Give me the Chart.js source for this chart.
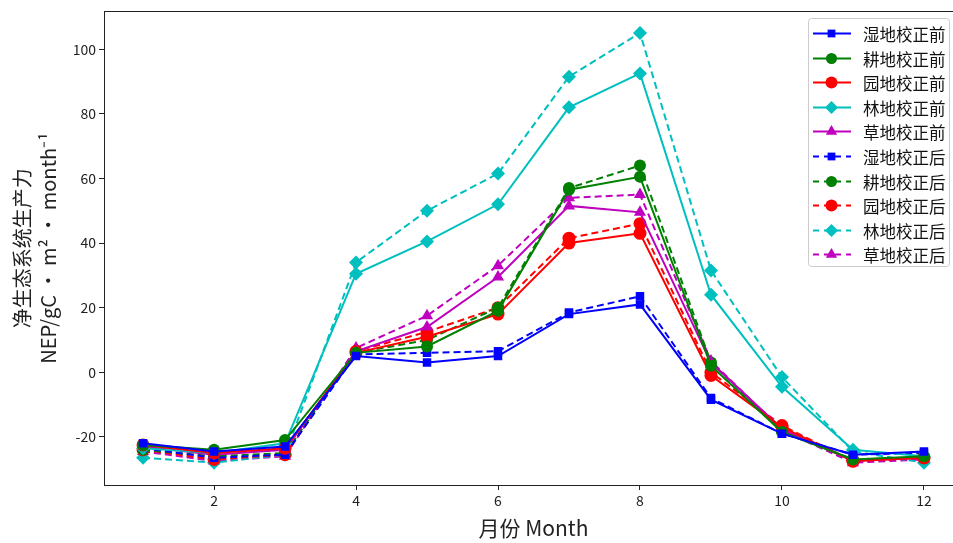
<!DOCTYPE html>
<html><head><meta charset="utf-8">
<script src="https://cdn.jsdelivr.net/npm/chart.js@4/dist/chart.umd.min.js"></script>
<style>html,body{margin:0;padding:0;background:#fff;overflow:hidden;width:953px;height:543px}#wrap{width:975px;height:543px}</style>
</head><body><div id="wrap"><canvas id="c" width="975" height="543"></canvas></div>
<script>
const months = [1,2,3,4,5,6,7,8,9,10,11,12];
const xTicks = [2,4,6,8,10,12];
const yTicks = [-20,0,20,40,60,80,100];
const seriesNames = ['湿地校正前','耕地校正前','园地校正前','林地校正前','草地校正前','湿地校正后','耕地校正后','园地校正后','林地校正后','草地校正后'];
const wetBefore    = [-22,-24.5,-23,5,3,5,18,21,-8.5,-19,-25.5,-24.5];
const cropBefore   = [-22.5,-24,-21,6,8,19,56.5,60.5,2,-18.5,-27,-26];
const orchBefore   = [-22.5,-25,-23.5,6,11,18,40,43,-1,-17,-27.5,-26.5];
const forestBefore = [-23.5,-25,-22,30.5,40.5,52,82,92.5,24,-4.5,-24,-26];
const grassBefore  = [-23,-25.5,-24,6.5,14,29.5,51.5,49.5,3,-17.5,-27.5,-26.5];
const wetAfter     = [-23.5,-26.5,-25.5,5.5,6,6.5,18.5,23.5,-8,-19,-25.5,-25];
const cropAfter    = [-24,-26,-25,6,10,20,57,64,3,-18,-27,-26.5];
const orchAfter    = [-24,-27,-25.5,6.5,12.5,20,41.5,46,0,-16.5,-27.5,-26.5];
const forestAfter  = [-26.5,-28,-25.5,34,50,61.5,91.5,105,31.5,-1.5,-24.5,-28];
const grassAfter   = [-24.5,-27.5,-26,7.5,17.5,33,54,55,3.5,-18,-28,-27];

const allValues = [wetBefore,cropBefore,orchBefore,forestBefore,grassBefore,wetAfter,cropAfter,orchAfter,forestAfter,grassAfter];
const colors = ['#0000ff','#008000','#ff0000','#00bfbf','#bf00bf'];
const styles = ['rect','circle','circle','rectRot','triangle'];
const radii = [6,6,6.5,7,7];

const datasets = allValues.map((vals,i)=>{
  const k = i%5, dashed = i>=5;
  return {
    label: seriesNames[i],
    data: months.map((m,j)=>({x:m,y:vals[j]})),
    borderColor: colors[k], backgroundColor: colors[k],
    borderWidth: 2, borderDash: dashed?[7,4]:[],
    pointStyle: styles[k], pointRadius: radii[k], pointHoverRadius: radii[k],
    pointBorderWidth: 0, tension: 0, fill:false
  };
});

const frame = {
  id:'frame',
  afterDatasetsDraw(chart){
    const {ctx, chartArea:a} = chart;
    ctx.save();
    ctx.strokeStyle='#222'; ctx.lineWidth=1; ctx.setLineDash([]);
    ctx.strokeRect(Math.round(a.left)+0.5,Math.round(a.top)+0.5,Math.round(a.right-a.left),Math.round(a.bottom-a.top));
    ctx.restore();
  },
  afterDraw(chart){
    const ctx = chart.ctx;
    const bx=808, by=18, bw=141, bh=248, step=24.6;
    ctx.save();
    ctx.setLineDash([]);
    ctx.fillStyle='rgba(255,255,255,0.85)';
    ctx.strokeStyle='#cccccc'; ctx.lineWidth=1;
    ctx.beginPath();
    if (ctx.roundRect) ctx.roundRect(bx+0.5,by+0.5,bw,bh,3); else ctx.rect(bx+0.5,by+0.5,bw,bh);
    ctx.fill(); ctx.stroke();
    ctx.restore();
    chart.data.datasets.forEach((ds,i)=>{
      const y = Math.round(by+15+i*step)+0.5;
      const dashed = i>=5;
      ctx.save();
      ctx.strokeStyle=ds.borderColor; ctx.lineWidth=2;
      ctx.setLineDash(dashed?[6,5]:[]);
      ctx.beginPath(); ctx.moveTo(813,y); ctx.lineTo(851,y); ctx.stroke();
      ctx.restore();
      ctx.save();
      ctx.setLineDash([]);
      ctx.fillStyle=ds.backgroundColor; ctx.strokeStyle=ds.borderColor;
      Chart.helpers.drawPoint(ctx,{pointStyle:ds.pointStyle,radius:ds.pointRadius-0.5,rotation:0,borderWidth:0},831.5,y);
      ctx.restore();
      ctx.save();
      ctx.fillStyle='#111';
      ctx.font='16.5px "Noto Sans CJK SC"';
      ctx.textBaseline='middle'; ctx.textAlign='left';
      ctx.fillText(ds.label,863,y+1);
      ctx.restore();
    });
  }
};

new Chart(document.getElementById('c'),{
  type:'line',
  data:{datasets},
  options:{
    responsive:false, animation:false,
    layout:{padding:{left:0,right:12,top:8,bottom:0}},
    plugins:{legend:{display:false},tooltip:{enabled:false}},
    scales:{
      x:{type:'linear',min:0.45,max:12.55,
        afterBuildTicks(s){s.ticks=xTicks.map(v=>({value:v}));},
        afterFit(s){s.height=58;},
        grid:{drawOnChartArea:false,drawTicks:true,tickLength:5,color:'#222'},
        border:{display:false},
        ticks:{color:'#222',font:{family:'"Noto Sans CJK SC"',size:14},padding:2,maxRotation:0},
        title:{display:true,text:'月份 Month',color:'#222',font:{family:'"Noto Sans CJK SC"',size:21},padding:{top:0,bottom:2}}
      },
      y:{type:'linear',min:-34.9,max:111.7,
        afterBuildTicks(s){s.ticks=yTicks.map(v=>({value:v}));},
        afterFit(s){s.width=104;},
        grid:{drawOnChartArea:false,drawTicks:true,tickLength:5,color:'#222'},
        border:{display:false},
        ticks:{color:'#222',font:{family:'"Noto Sans CJK SC"',size:14},padding:3},
        title:{display:true,text:['净生态系统生产力','NEP/gC · m² · month⁻¹'],color:'#222',font:{family:'"Noto Sans CJK SC"',size:20,lineHeight:1.3},padding:{top:9,bottom:0}}
      }
    }
  },
  plugins:[frame]
});
</script></body></html>
